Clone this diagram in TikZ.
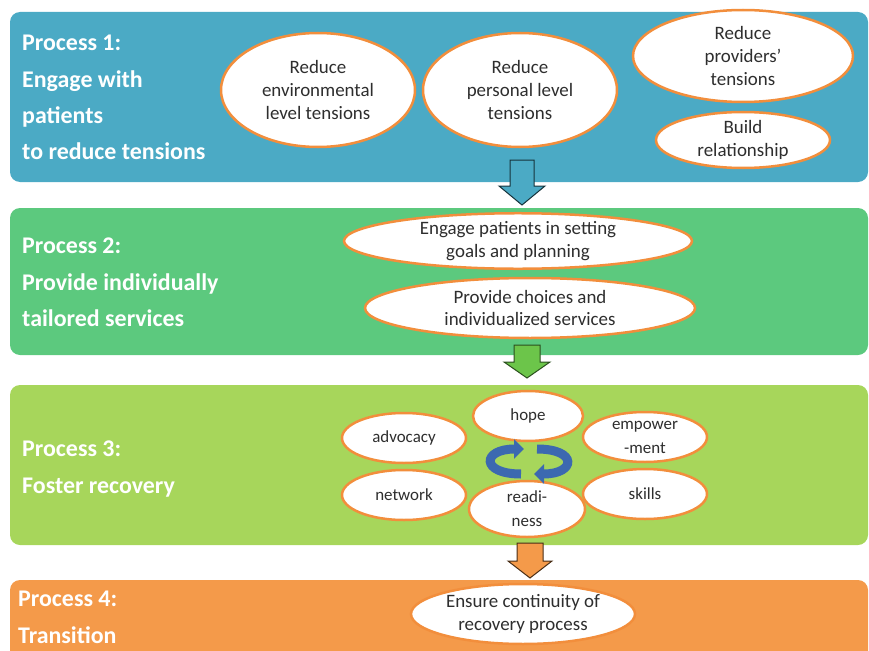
\documentclass[tikz,border=0pt]{standalone}
\usepackage{fontspec}
\setmainfont{Carlito}
\usetikzlibrary{shapes.geometric,arrows.meta}

\definecolor{bandblue}{HTML}{4BAAC5}
\definecolor{bandgreen}{HTML}{5CC97E}
\definecolor{bandlime}{HTML}{A7D65B}
\definecolor{bandorange}{HTML}{F49A4A}
\definecolor{ringorange}{HTML}{F28E3C}
\definecolor{inktext}{HTML}{2E2E2E}
\definecolor{cycleblue}{HTML}{3C69B0}
\definecolor{arrowgreen}{HTML}{6CC54A}

\tikzset{
	band/.style={rounded corners=10bp},
	title/.style={anchor=north west, inner sep=0pt, align=left, text=white,
		font=\bfseries\fontsize{24}{36.5}\selectfont},
	goal/.style={ellipse, draw=ringorange, line width=2.5bp, fill=white,
		align=center, inner sep=0pt, text=inktext,
		font=\fontsize{19}{23}\selectfont},
	smallgoal/.style={goal, minimum width=124bp, minimum height=50bp,
		font=\fontsize{17}{24}\selectfont},
	blockarrow/.style={line width=1bp, line join=miter},
	cyclearrow/.style={draw=cycleblue, line width=9bp,
		-{Triangle[length=10bp,width=19bp]}},
}

\begin{document}
\begin{tikzpicture}[x=1bp,y=-1bp]
	\useasboundingbox (0,0) rectangle (869,651);
	\clip (0,0) rectangle (869,651);

	% bands
	\fill[band,bandblue] (10,12) rectangle (868,182);
	\fill[band,bandgreen] (10,208) rectangle (868,355);
	\fill[band,bandlime] (10,385) rectangle (868,545);
	\fill[band,bandorange] (10,580) rectangle (868,670);

	% titles
	\node[title] (t1) at (22,35) {Process 1:\\Engage with\\patients\\to reduce tensions};
	\node[title] (t2) at (22,238) {Process 2:\\Provide individually\\tailored services};
	\node[title] (t3) at (22,441) {Process 3:\\Foster recovery};
	\node[title] (t4) at (18,591) {Process 4:\\Transition};

	% process 1
	\node[goal, minimum width=194bp, minimum height=114bp] (env) at (318,90)
		{Reduce\\environmental\\level tensions};
	\node[goal, minimum width=194bp, minimum height=114bp] (pers) at (520,90)
		{Reduce\\personal level\\tensions};
	\node[goal, minimum width=220bp, minimum height=92bp] (prov) at (743,56)
		{Reduce\\providers'\\tensions};
	\node[goal, minimum width=174bp, minimum height=56bp] (rel) at (743,140)
		{Build\\relationship};

	% process 2
	\node[goal, minimum width=348bp, minimum height=55bp] (goals) at (518,241)
		{Engage patients in setting\\goals and planning};
	\node[goal, minimum width=330bp, minimum height=60bp] (choice) at (530,308)
		{Provide choices and\\individualized services};

	% process 3
	\node[smallgoal, minimum width=110bp] (hope) at (528,416) {hope};
	\node[smallgoal] (adv) at (404,438) {advocacy};
	\node[smallgoal] (emp) at (645,437) {empower\\-ment};
	\node[smallgoal] (net) at (404,495) {network};
	\node[smallgoal] (skl) at (645,494) {skills};
	\node[smallgoal, minimum width=116bp, minimum height=56bp] (ready) at (527,509)
		{readi-\\ness};

	\coordinate (c1a) at (521,474);
	\coordinate (c1b) at (524,449);
	\coordinate (c2a) at (537,449);
	\coordinate (c2b) at (534,474);
	\draw[cyclearrow] (c1a) .. controls (480,474) and (482,449) .. (c1b);
	\draw[cyclearrow] (c2a) .. controls (578,449) and (576,474) .. (c2b);

	% process 4
	\node[goal, minimum width=224bp, minimum height=60bp] (cont) at (523,614)
		{Ensure continuity of\\recovery process};

	% arrows between bands
	\draw[blockarrow, fill=bandblue, draw=black!70!bandblue]
		(510,160) -- (534,160) -- (534,186) -- (545,186) -- (522,205)
		-- (499,186) -- (510,186) -- cycle;
	\draw[blockarrow, fill=arrowgreen, draw=black!60!arrowgreen]
		(514,345) -- (540,345) -- (540,362) -- (550,362) -- (527,378)
		-- (504,362) -- (514,362) -- cycle;
	\draw[blockarrow, fill=bandorange, draw=black!70!bandorange]
		(517,543) -- (543,543) -- (543,561) -- (552,561) -- (530,578)
		-- (508,561) -- (517,561) -- cycle;
\end{tikzpicture}
\end{document}
